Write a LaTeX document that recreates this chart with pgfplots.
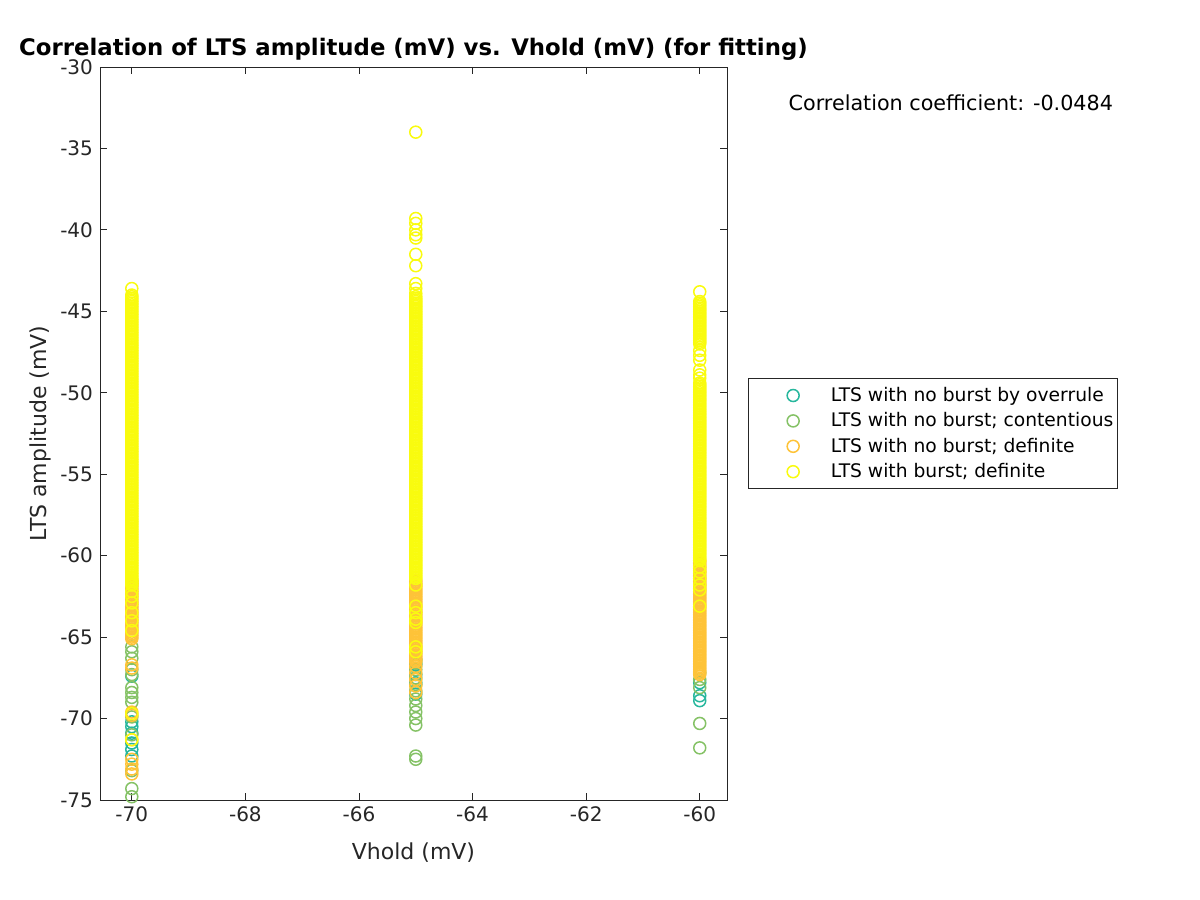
\documentclass[border=0pt]{standalone}
\usepackage{pgfplots}
\pgfplotsset{compat=1.18}
\usepackage{fontspec}
\setmainfont{DejaVu Sans}
\definecolor{cTeal}{rgb}{0.154,0.718,0.617}
\definecolor{cGreen}{rgb}{0.52,0.76,0.40}
\definecolor{cOrange}{rgb}{0.996,0.765,0.22}
\definecolor{cYellow}{rgb}{0.976,0.983,0.054}
\definecolor{axgray}{rgb}{0.15,0.15,0.15}
\begin{document}
\begin{tikzpicture}
\path[use as bounding box] (-50pt,-50pt) rectangle (550pt,400pt);
\begin{axis}[
  at={(0pt,0pt)}, anchor=south west,
  scale only axis, width=313.5pt, height=366.5pt,
  xmin=-70.56, xmax=-59.52, ymin=-75, ymax=-30,
  xtick={-70,-68,...,-60}, ytick={-75,-70,...,-30},
  tick align=inside, major tick length=3.5pt,
  axis line style={axgray, line width=0.4pt},
  every tick/.style={axgray, line width=0.4pt},
  tick label style={font=\fontsize{10}{12}\selectfont, text=axgray},
  /pgf/number format/assume math mode=true,
  xlabel={Vhold (mV)}, ylabel={LTS amplitude (mV)},
  label style={font=\fontsize{11}{13}\selectfont, text=axgray},
  xlabel style={yshift=-3.5pt},
  ylabel style={yshift=-2.5pt},
  title={Correlation of LTS amplitude (mV) vs. Vhold (mV) (for fitting)},
  title style={font=\bfseries\fontsize{11.4}{13}\selectfont, yshift=-6pt},
  clip=false,
  legend cell align=left,
  legend style={at={(1.0335,0.5757)}, anchor=north west, draw=axgray, line width=0.4pt,
    font=\fontsize{9.35}{10}\selectfont, inner xsep=0pt, inner ysep=2.2pt,
    nodes={inner xsep=2pt, inner ysep=1pt, text height=8.2pt, text depth=2.5pt},
    row sep=0pt},
  legend image code/.code={\path (-22pt,0pt) (16.5pt,0pt); \draw[mark repeat=2,mark phase=2,#1] plot coordinates {(-22pt,0pt) (0pt,0pt) (16.5pt,0pt)};},
  every axis plot/.append style={only marks, mark=o, mark size=3pt, line width=0.75pt},
]
% ---------- LTS with no burst by overrule ----------
\addplot[cTeal] coordinates {
(-70,-67.4) (-70,-70.2) (-70,-70.5) (-70,-70.9) (-70,-71.5) (-70,-71.9) (-70,-72.3)
(-65,-66.4) (-65,-66.7) (-65,-67.3) (-65,-67.8) (-65,-68.5)
(-60,-67.8) (-60,-68.6) (-60,-68.9)
};
\addlegendentry{LTS with no burst by overrule}
% ---------- LTS with no burst; contentious ----------
\addplot[cGreen] coordinates {
(-70,-65.6) (-70,-65.9) (-70,-66.3) (-70,-67.0) (-70,-67.3) (-70,-68.1) (-70,-68.4) (-70,-68.7)
(-70,-69.0) (-70,-69.9) (-70,-71.0) (-70,-73.2) (-70,-74.3) (-70,-74.8)
(-65,-66.6) (-65,-67.0) (-65,-67.5) (-65,-67.9) (-65,-68.3) (-65,-68.8) (-65,-69.2) (-65,-69.6)
(-65,-70.0) (-65,-70.4) (-65,-72.3) (-65,-72.5)
(-60,-67.2) (-60,-67.6) (-60,-68.1) (-60,-70.3) (-60,-71.8)
};
\addlegendentry{LTS with no burst; contentious}
% ---------- LTS with no burst; definite ----------
\addplot[cOrange] table[row sep=\\, x expr=-70, y=y] {y\\
-61.5\\ -61.6\\ -61.7\\ -61.8\\ -61.9\\
-62.0\\ -62.1\\ -62.2\\ -62.3\\ -62.4\\ -62.5\\ -62.6\\ -62.7\\ -62.8\\ -62.9\\
-63.0\\ -63.1\\ -63.2\\ -63.3\\ -63.4\\ -63.5\\ -63.6\\ -63.7\\ -63.8\\ -63.9\\
-64.0\\ -64.1\\ -64.2\\ -64.3\\ -64.4\\ -64.5\\ -64.6\\ -64.7\\ -64.8\\ -64.9\\
-65.0\\ -65.1\\ -66.7\\ -66.9\\ -69.6\\ -69.8\\ -71.3\\ -72.5\\ -72.8\\ -73.1\\ -73.4\\
};
\addlegendentry{LTS with no burst; definite}
\addplot[cOrange, forget plot] table[row sep=\\, x expr=-65, y=y] {y\\
-61.5\\ -61.6\\ -61.7\\ -61.8\\ -61.9\\
-62.0\\ -62.1\\ -62.2\\ -62.3\\ -62.4\\ -62.5\\ -62.6\\ -62.7\\ -62.8\\ -62.9\\
-63.0\\ -63.1\\ -63.2\\ -63.3\\ -63.4\\ -63.5\\ -63.6\\ -63.7\\ -63.8\\ -63.9\\
-64.0\\ -64.1\\ -64.2\\ -64.3\\ -64.4\\ -64.5\\ -64.6\\ -64.7\\ -64.8\\ -64.9\\
-65.0\\ -65.1\\ -65.2\\ -65.3\\ -65.4\\ -65.5\\ -65.6\\ -65.7\\ -65.8\\ -65.9\\
-66.0\\ -66.1\\ -66.2\\ -66.3\\ -66.4\\ -66.5\\ -66.8\\ -67.2\\ -67.6\\ -68.0\\ -68.4\\
};
\addplot[cOrange, forget plot] table[row sep=\\, x expr=-60, y=y] {y\\
-60.3\\ -60.4\\ -60.5\\ -60.6\\ -60.7\\ -60.8\\ -60.9\\
-61.0\\ -61.1\\ -61.2\\ -61.3\\ -61.4\\ -61.5\\ -61.6\\ -61.7\\ -61.8\\ -61.9\\
-62.0\\ -62.1\\ -62.2\\ -62.3\\ -62.4\\ -62.5\\ -62.6\\ -62.7\\ -62.8\\ -62.9\\
-63.0\\ -63.1\\ -63.2\\ -63.3\\ -63.4\\ -63.5\\ -63.6\\ -63.7\\ -63.8\\ -63.9\\
-64.0\\ -64.1\\ -64.2\\ -64.3\\ -64.4\\ -64.5\\ -64.6\\ -64.7\\ -64.8\\ -64.9\\
-65.0\\ -65.1\\ -65.2\\ -65.3\\ -65.4\\ -65.5\\ -65.6\\ -65.7\\ -65.8\\ -65.9\\
-66.0\\ -66.1\\ -66.2\\ -66.3\\ -66.4\\ -66.5\\ -66.6\\ -66.7\\ -66.8\\ -66.9\\
-67.0\\ -67.1\\ -67.2\\ -67.3\\
};
% ---------- LTS with burst; definite ----------
\addplot[cYellow] table[row sep=\\, x expr=-70, y=y] {y\\
-43.6\\ -44.0\\ -44.1\\ -44.2\\ -44.3\\ -44.4\\ -44.5\\ -44.6\\ -44.7\\ -44.8\\ -44.9\\
-45.0\\ -45.1\\ -45.2\\ -45.3\\ -45.4\\ -45.5\\ -45.6\\ -45.7\\ -45.8\\ -45.9\\
-46.0\\ -46.1\\ -46.2\\ -46.3\\ -46.4\\ -46.5\\ -46.6\\ -46.7\\ -46.8\\ -46.9\\
-47.0\\ -47.1\\ -47.2\\ -47.3\\ -47.4\\ -47.5\\ -47.6\\ -47.7\\ -47.8\\ -47.9\\
-48.0\\ -48.1\\ -48.2\\ -48.3\\ -48.4\\ -48.5\\ -48.6\\ -48.7\\ -48.8\\ -48.9\\
-49.0\\ -49.1\\ -49.2\\ -49.3\\ -49.4\\ -49.5\\ -49.6\\ -49.7\\ -49.8\\ -49.9\\
-50.0\\ -50.1\\ -50.2\\ -50.3\\ -50.4\\ -50.5\\ -50.6\\ -50.7\\ -50.8\\ -50.9\\
-51.0\\ -51.1\\ -51.2\\ -51.3\\ -51.4\\ -51.5\\ -51.6\\ -51.7\\ -51.8\\ -51.9\\
-52.0\\ -52.1\\ -52.2\\ -52.3\\ -52.4\\ -52.5\\ -52.6\\ -52.7\\ -52.8\\ -52.9\\
-53.0\\ -53.1\\ -53.2\\ -53.3\\ -53.4\\ -53.5\\ -53.6\\ -53.7\\ -53.8\\ -53.9\\
-54.0\\ -54.1\\ -54.2\\ -54.3\\ -54.4\\ -54.5\\ -54.6\\ -54.7\\ -54.8\\ -54.9\\
-55.0\\ -55.1\\ -55.2\\ -55.3\\ -55.4\\ -55.5\\ -55.6\\ -55.7\\ -55.8\\ -55.9\\
-56.0\\ -56.1\\ -56.2\\ -56.3\\ -56.4\\ -56.5\\ -56.6\\ -56.7\\ -56.8\\ -56.9\\
-57.0\\ -57.1\\ -57.2\\ -57.3\\ -57.4\\ -57.5\\ -57.6\\ -57.7\\ -57.8\\ -57.9\\
-58.0\\ -58.1\\ -58.2\\ -58.3\\ -58.4\\ -58.5\\ -58.6\\ -58.7\\ -58.8\\ -58.9\\
-59.0\\ -59.1\\ -59.2\\ -59.3\\ -59.4\\ -59.5\\ -59.6\\ -59.7\\ -59.8\\ -59.9\\
-60.0\\ -60.1\\ -60.2\\ -60.3\\ -60.4\\ -60.5\\ -60.6\\ -60.7\\ -60.8\\ -60.9\\
-61.0\\ -61.1\\ -61.2\\ -61.3\\ -61.4\\ -61.5\\ -61.6\\ -61.7\\ -61.8\\
-62.2\\ -62.5\\ -62.9\\ -63.5\\ -64.0\\ -64.6\\ -69.7\\ -71.3\\
};
\addlegendentry{LTS with burst; definite}
\addplot[cYellow, forget plot] table[row sep=\\, x expr=-65, y=y] {y\\
-34.0\\ -39.3\\ -39.6\\ -40.0\\ -40.3\\ -40.5\\ -41.5\\ -42.2\\ -43.3\\ -43.6\\ -43.9\\
-44.1\\ -44.2\\ -44.3\\ -44.4\\ -44.5\\ -44.6\\ -44.7\\ -44.8\\ -44.9\\
-45.0\\ -45.1\\ -45.2\\ -45.3\\ -45.4\\ -45.5\\ -45.6\\ -45.7\\ -45.8\\ -45.9\\
-46.0\\ -46.1\\ -46.2\\ -46.3\\ -46.4\\ -46.5\\ -46.6\\ -46.7\\ -46.8\\ -46.9\\
-47.0\\ -47.1\\ -47.2\\ -47.3\\ -47.4\\ -47.5\\ -47.6\\ -47.7\\ -47.8\\ -47.9\\
-48.0\\ -48.1\\ -48.2\\ -48.3\\ -48.4\\ -48.5\\ -48.6\\ -48.7\\ -48.8\\ -48.9\\
-49.0\\ -49.1\\ -49.2\\ -49.3\\ -49.4\\ -49.5\\ -49.6\\ -49.7\\ -49.8\\ -49.9\\
-50.0\\ -50.1\\ -50.2\\ -50.3\\ -50.4\\ -50.5\\ -50.6\\ -50.7\\ -50.8\\ -50.9\\
-51.0\\ -51.1\\ -51.2\\ -51.3\\ -51.4\\ -51.5\\ -51.6\\ -51.7\\ -51.8\\ -51.9\\
-52.0\\ -52.1\\ -52.2\\ -52.3\\ -52.4\\ -52.5\\ -52.6\\ -52.7\\ -52.8\\ -52.9\\
-53.0\\ -53.1\\ -53.2\\ -53.3\\ -53.4\\ -53.5\\ -53.6\\ -53.7\\ -53.8\\ -53.9\\
-54.0\\ -54.1\\ -54.2\\ -54.3\\ -54.4\\ -54.5\\ -54.6\\ -54.7\\ -54.8\\ -54.9\\
-55.0\\ -55.1\\ -55.2\\ -55.3\\ -55.4\\ -55.5\\ -55.6\\ -55.7\\ -55.8\\ -55.9\\
-56.0\\ -56.1\\ -56.2\\ -56.3\\ -56.4\\ -56.5\\ -56.6\\ -56.7\\ -56.8\\ -56.9\\
-57.0\\ -57.1\\ -57.2\\ -57.3\\ -57.4\\ -57.5\\ -57.6\\ -57.7\\ -57.8\\ -57.9\\
-58.0\\ -58.1\\ -58.2\\ -58.3\\ -58.4\\ -58.5\\ -58.6\\ -58.7\\ -58.8\\ -58.9\\
-59.0\\ -59.1\\ -59.2\\ -59.3\\ -59.4\\ -59.5\\ -59.6\\ -59.7\\ -59.8\\ -59.9\\
-60.0\\ -60.1\\ -60.2\\ -60.3\\ -60.4\\ -60.5\\ -60.6\\ -60.7\\ -60.8\\ -60.9\\
-61.0\\ -61.1\\ -61.2\\ -61.3\\ -61.4\\
-61.8\\ -63.1\\ -63.5\\ -63.9\\ -64.1\\ -65.6\\ -65.9\\
};
\addplot[cYellow, forget plot] table[row sep=\\, x expr=-60, y=y] {y\\
-43.8\\ -44.4\\ -44.5\\ -44.6\\ -44.7\\ -44.8\\ -44.9\\
-45.0\\ -45.1\\ -45.2\\ -45.3\\ -45.4\\ -45.5\\ -45.6\\ -45.7\\ -45.8\\ -45.9\\
-46.0\\ -46.1\\ -46.2\\ -46.3\\ -46.4\\ -46.5\\ -46.6\\ -46.7\\ -46.8\\ -46.9\\
-47.0\\ -47.4\\ -47.7\\ -48.0\\ -48.6\\ -48.9\\ -49.1\\
-49.4\\ -49.5\\ -49.6\\ -49.7\\ -49.8\\ -49.9\\
-50.0\\ -50.1\\ -50.2\\ -50.3\\ -50.4\\ -50.5\\ -50.6\\ -50.7\\ -50.8\\ -50.9\\
-51.0\\ -51.1\\ -51.2\\ -51.3\\ -51.4\\ -51.5\\ -51.6\\ -51.7\\ -51.8\\ -51.9\\
-52.0\\ -52.1\\ -52.2\\ -52.3\\ -52.4\\ -52.5\\ -52.6\\ -52.7\\ -52.8\\ -52.9\\
-53.0\\ -53.1\\ -53.2\\ -53.3\\ -53.4\\ -53.5\\ -53.6\\ -53.7\\ -53.8\\ -53.9\\
-54.0\\ -54.1\\ -54.2\\ -54.3\\ -54.4\\ -54.5\\ -54.6\\ -54.7\\ -54.8\\ -54.9\\
-55.0\\ -55.1\\ -55.2\\ -55.3\\ -55.4\\ -55.5\\ -55.6\\ -55.7\\ -55.8\\ -55.9\\
-56.0\\ -56.1\\ -56.2\\ -56.3\\ -56.4\\ -56.5\\ -56.6\\ -56.7\\ -56.8\\ -56.9\\
-57.0\\ -57.1\\ -57.2\\ -57.3\\ -57.4\\ -57.5\\ -57.6\\ -57.7\\ -57.8\\ -57.9\\
-58.0\\ -58.1\\ -58.2\\ -58.3\\ -58.4\\ -58.5\\ -58.6\\ -58.7\\ -58.8\\ -58.9\\
-59.0\\ -59.1\\ -59.2\\ -59.3\\ -59.4\\ -59.5\\ -59.6\\ -59.7\\ -59.8\\ -59.9\\
-60.0\\ -60.1\\ -60.2\\ -60.3\\ -60.7\\ -61.0\\ -61.4\\ -61.8\\ -62.1\\ -63.1\\
};
\node[font=\fontsize{10.35}{12}\selectfont, text=black] at (rel axis cs:1.357,0.951) {Correlation coefficient: -0.0484};
\end{axis}
\end{tikzpicture}
\end{document}
